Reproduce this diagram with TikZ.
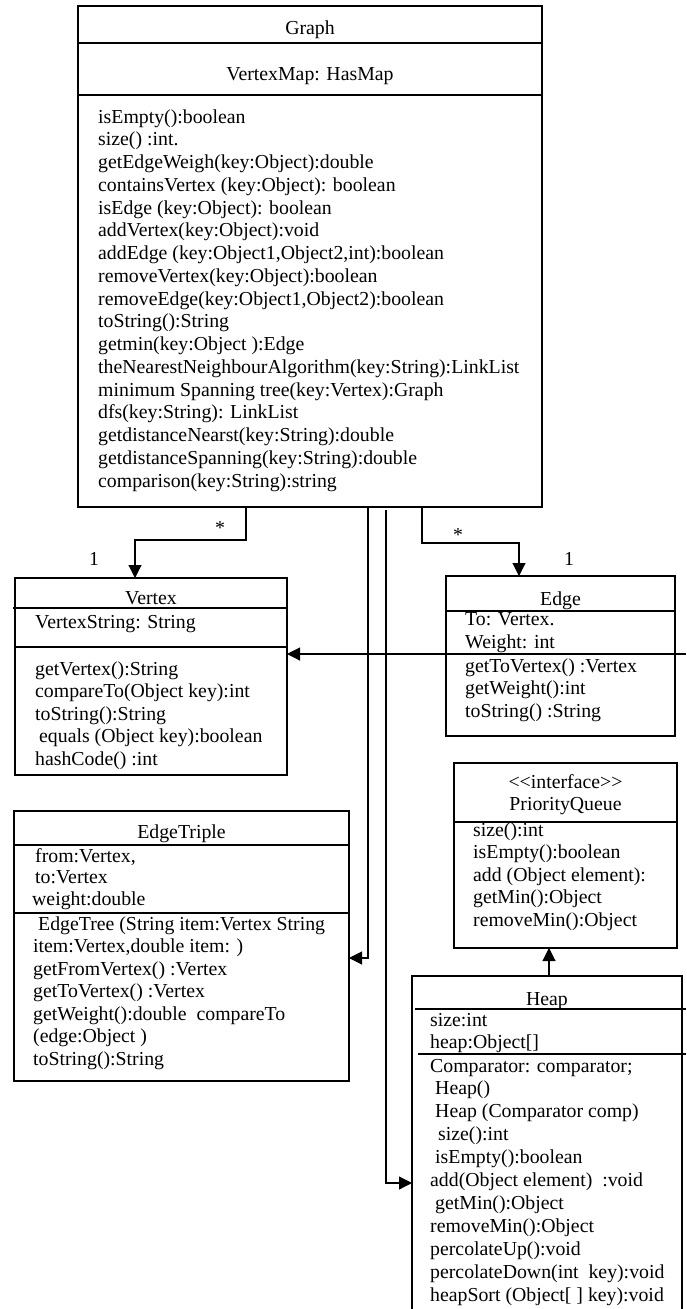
\documentclass[tikz,border=0pt]{standalone}
\usepackage{fontspec}
\setmainfont{Liberation Serif}
\usetikzlibrary{arrows.meta}
\begin{document}
\begin{tikzpicture}[x=1pt,y=-1pt,
  box/.style={draw,line width=1.3pt,rectangle,inner sep=0pt,outer sep=0pt,anchor=north west},
  sep/.style={line width=1.3pt},
  conn/.style={line width=1.1pt},
  arr/.style={conn,-{Triangle[width=13pt,length=13pt]}},
  txt/.style={anchor=base west,inner sep=0pt,font=\fontsize{19.8}{22}\selectfont},
  ttl/.style={anchor=base,inner sep=0pt,font=\fontsize{19.8}{22}\selectfont},
]
\useasboundingbox (0,0) rectangle (686,1309);
\fill[white] (0,0) rectangle (686,1309);

% ---------------- Graph ----------------
\node[box,minimum width=464pt,minimum height=501pt] (graph) at (78,6) {};
\draw[sep] (78,43) -- (542,43);
\draw[sep] (78,95) -- (542,95);
\node[ttl] (gtitle) at (310,34) {Graph};
\node[ttl] (gattr) at (310,80) {VertexMap: HasMap};
\foreach \t [count=\i from 0] in {
  {isEmpty():boolean},
  {size() :int.},
  {getEdgeWeigh(key:Object):double},
  {containsVertex (key:Object): boolean},
  {isEdge (key:Object): boolean},
  {addVertex(key:Object):void},
  {addEdge (key:Object1,Object2,int):boolean},
  {removeVertex(key:Object):boolean},
  {removeEdge(key:Object1,Object2):boolean},
  {toString():String},
  {getmin(key:Object ):Edge},
  {theNearestNeighbourAlgorithm(key:String):LinkList},
  {minimum Spanning tree(key:Vertex):Graph},
  {dfs(key:String): LinkList},
  {getdistanceNearst(key:String):double},
  {getdistanceSpanning(key:String):double},
  {comparison(key:String):string}}
  \node[txt] (gm\i) at (98,{123+\i*22.75}) {\t};

% ---------------- Vertex ----------------
\node[box,minimum width=272pt,minimum height=197pt] (vertex) at (15,578) {};
\draw[sep] (13,608) -- (287,608);
\draw[sep] (15,647) -- (287,647);
\node[ttl] (vtitle) at (151,604) {Vertex};
\node[txt] (vattr) at (35,628) {VertexString: String};
\foreach \t [count=\i from 0] in {
  {getVertex():String},
  {compareTo(Object key):int},
  {toString():String},
  {\hspace{4pt}equals (Object key):boolean},
  {hashCode() :int}}
  \node[txt] (vm\i) at (35,{675+\i*22.5}) {\t};

% ---------------- Edge ----------------
\node[box,minimum width=229pt,minimum height=160pt] (edge) at (446,576) {};
\draw[sep] (446,611) -- (675,611);
\node[ttl] (etitle) at (560.5,605) {Edge};
\node[txt] (ea1) at (465,625) {To: Vertex.};
\node[txt] (ea2) at (465,648) {Weight: int};
\foreach \t [count=\i from 0] in {
  {getToVertex() :Vertex},
  {getWeight():int},
  {toString() :String}}
  \node[txt] (em\i) at (465,{672+\i*22.5}) {\t};

% ---------------- PriorityQueue ----------------
\node[box,minimum width=223pt,minimum height=185pt] (pq) at (454,763) {};
\draw[sep] (454,822) -- (677,822);
\node[ttl] (pqs) at (565.5,788) {<\kern0pt<interface>\kern0pt>};
\node[ttl] (pqtitle) at (565.5,810) {PriorityQueue};
\foreach \t [count=\i from 0] in {
  {size():int},
  {isEmpty():boolean},
  {add (Object element):},
  {getMin():Object},
  {removeMin():Object}}
  \node[txt] (pm\i) at (473,{836+\i*22.5}) {\t};

% ---------------- EdgeTriple ----------------
\node[box,minimum width=335pt,minimum height=270pt] (et) at (14,811) {};
\draw[sep] (14,845) -- (349,845);
\draw[sep] (14,913) -- (349,913);
\node[ttl] (ettitle) at (181.5,838) {EdgeTriple};
\node[txt] (eta1) at (32,862) {\hspace{3pt}from:Vertex,};
\node[txt] (eta2) at (32,883.5) {\hspace{3pt}to:Vertex};
\node[txt] (eta3) at (32,905) {weight:double};
\foreach \t [count=\i from 0] in {
  {\hspace{5pt}EdgeTree (String item:Vertex String},
  {item:Vertex,double item: )},
  {getFromVertex() :Vertex},
  {getToVertex() :Vertex},
  {getWeight():double\ \ compareTo},
  {(edge:Object )},
  {toString():String}}
  \node[txt] (etm\i) at (33,{930+\i*22.5}) {\t};

% ---------------- Heap ----------------
\node[box,minimum width=270pt,minimum height=344pt] (heap) at (412,976) {};
\draw[sep] (415,1009) -- (686,1009);
\draw[sep] (418,1054) -- (686,1054);
\node[ttl] (htitle) at (547,1005) {Heap};
\node[txt] (ha1) at (430,1026) {size:int};
\node[txt] (ha2) at (430,1048) {heap:Object[]};
\foreach \t [count=\i from 0] in {
  {Comparator: comparator;},
  {\hspace{5pt}Heap()},
  {\hspace{5pt}Heap (Comparator comp)},
  {\hspace{8pt}size():int},
  {\hspace{5pt}isEmpty():boolean},
  {add(Object element)\ \ :void},
  {\hspace{5pt}getMin():Object},
  {removeMin():Object},
  {percolateUp():void},
  {percolateDown(int\ \ key):void},
  {heapSort (Object[ ] key):void}}
  \node[txt] (hm\i) at (430,{1072+\i*22.9}) {\t};

% ---------------- Connectors ----------------
\coordinate (c1) at (246,540);
\coordinate (c2) at (135,540);
\draw[arr] (graph.south -| c1) -- (c1) -- (c2) -- (vertex.north -| c2);
\node[ttl] (m1) at (220,534) {*};
\node[ttl] (o1) at (94,565) {1};

\coordinate (c3) at (422,543);
\coordinate (c4) at (519,543);
\draw[arr] (graph.south -| c3) -- (c3) -- (c4) -- (edge.north -| c4);
\node[ttl] (m2) at (458,541) {*};
\node[ttl] (o2) at (569,565) {1};

\coordinate (c5) at (368,958);
\draw[arr] (graph.south -| c5) -- (c5) -- (et.east |- c5);

\coordinate (c6s) at (386,510);
\coordinate (c6) at (386,1183);
\draw[arr] (c6s) -- (c6) -- (heap.west |- c6);

\coordinate (c7) at (686,654);
\draw[arr] (c7) -- (vertex.east |- c7);

\coordinate (c8) at (549,960);
\draw[arr] (heap.north -| c8) -- (pq.south -| c8);
\end{tikzpicture}
\end{document}
